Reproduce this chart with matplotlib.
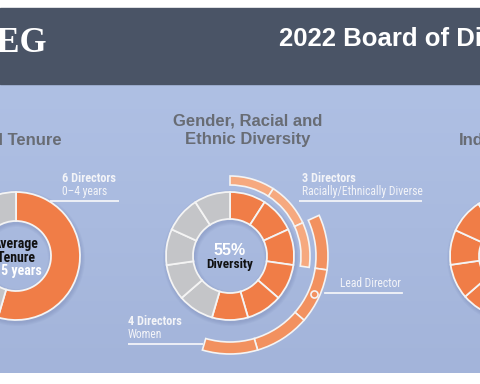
import numpy as np
import matplotlib.pyplot as plt
from matplotlib.patches import Rectangle

# --- data ---
tenure_labels = ['0-4 years', '5-9 years', '10+ years']
tenure_counts = [6, 3, 2]
seats = 11
diverse_seats = [1, 1, 1, 1, 1, 1, 0, 0, 0, 0, 0]
racial_seats = [1, 1, 1, 0, 0, 0, 0, 0, 0, 0, 0]
women_seats = [0, 0, 1, 1, 1, 1, 0, 0, 0, 0, 0]
lead_director_seat = 3
independent_seats = [1, 1, 1, 1, 1, 1, 1, 1, 1, 1, 0]

W, H = 480, 384
ORANGE = '#f07d47'
ORANGE_MID = '#f2915f'
ORANGE_LIGHT = '#f6a97f'
GRAY = '#c4c5c8'
BG_TOP = '#afc0e4'
BG_BOT = '#a3b4da'
HEADER = '#4a5466'
TITLE_GRAY = '#686c74'
WHITE = '#f3f4f8'
NARROW = ['Roboto Condensed', 'DejaVu Sans']
SANS = ['Liberation Sans', 'DejaVu Sans']

fig = plt.figure(figsize=(4.8, 3.84), dpi=100)
ax = fig.add_axes([0, 0, 1, 1])

# background
grad = np.linspace(0, 1, 200)[:, None]
c1 = np.array([int(BG_TOP[i:i + 2], 16) for i in (1, 3, 5)]) / 255
c2 = np.array([int(BG_BOT[i:i + 2], 16) for i in (1, 3, 5)]) / 255
img = c1[None, None, :] * (1 - grad[:, :, None]) + c2[None, None, :] * grad[:, :, None]
ax.imshow(img, extent=(0, W, 11, 300), aspect='auto', zorder=0)
ax.add_patch(Rectangle((0, 300), W, 76, color=HEADER, zorder=1))


def shadow(cx, cy, r, width):
    for k in (1, 2, 3, 4):
        w, _ = ax.pie([1], colors=['#2c3a6e'], radius=r + k, center=(cx + 1, cy - 2),
                      frame=True, wedgeprops=dict(width=width + 2 * k, linewidth=0, alpha=0.035))
        w[0].set_zorder(2)


def ring(cx, cy, r, width, values, colors, hide=(), lw=1.3):
    wedges, _ = ax.pie(values, colors=colors, radius=r, center=(cx, cy),
                       startangle=90, counterclock=False, frame=True,
                       wedgeprops=dict(width=width, edgecolor='#f4f4f4', linewidth=lw))
    for i, w in enumerate(wedges):
        w.set_zorder(3)
        if i in hide:
            w.set_visible(False)
    return wedges


# Tenure donut
shadow(16, 128, 64, 29)
ring(16, 128, 64, 29, tenure_counts, [ORANGE, GRAY, GRAY])

# Diversity donut
shadow(230, 128, 64, 27)
ring(230, 128, 64, 27, [1] * seats, [ORANGE if d else GRAY for d in diverse_seats])
ring(230, 128, 80, 9, [1] * seats, [ORANGE_LIGHT] * seats,
     hide=[i for i, v in enumerate(racial_seats) if not v], lw=1.2)
ring(230, 128, 98, 12, [1] * seats, [ORANGE_MID] * seats,
     hide=[i for i, v in enumerate(women_seats) if not v], lw=1.2)
theta = np.deg2rad((lead_director_seat + 0.5) * 360 / seats)
ax.scatter([230 + 92 * np.sin(theta)], [128 + 92 * np.cos(theta)], s=26,
           facecolor=ORANGE_MID, edgecolor='#f4f4f4', linewidth=1.2, zorder=5)

# Independence donut
shadow(512, 128, 62, 29)
ring(512, 128, 62, 29, [1] * seats, [ORANGE if d else GRAY for d in independent_seats])

# header texts
ax.text(47, 340, 'SEG', color='white', fontsize=25, fontweight='bold',
        family=['Liberation Serif', 'DejaVu Serif'], ha='right', va='center', zorder=4)
ax.text(279, 338, '2022 Board of Directors', color='white', fontsize=18.5,
        fontweight='bold', family=SANS, ha='left', va='baseline', zorder=4)

# section titles
ax.text(62, 239, 'Board Tenure', color=TITLE_GRAY, fontsize=12, fontweight='bold',
        family=SANS, ha='right', va='baseline', zorder=4)
ax.text(248, 259, 'Gender, Racial and', color=TITLE_GRAY, fontsize=12, fontweight='bold',
        family=SANS, ha='center', va='baseline', zorder=4)
ax.text(248, 240, 'Ethnic Diversity', color=TITLE_GRAY, fontsize=12, fontweight='bold',
        family=SANS, ha='center', va='baseline', zorder=4)
ax.text(459, 239, 'Independence', color=TITLE_GRAY, fontsize=12, fontweight='bold',
        family=SANS, ha='left', va='baseline', zorder=4)

# callouts
callouts = [
    (62, 202, '6 Directors', '0\u20134 years', (50, 119), 183),
    (302, 202, '3 Directors', 'Racially/Ethnically Diverse', (299, 422), 183),
    (128, 59, '4 Directors', 'Women', (128, 203), 40),
]
for x, yb, top, bottom, (x0, x1), ly in callouts:
    ax.text(x, yb, top, color=WHITE, fontsize=8.8, fontweight='bold', family=NARROW,
            ha='left', va='baseline', zorder=4)
    ax.text(x, yb - 13, bottom, color=WHITE, fontsize=8.4, family=NARROW,
            ha='left', va='baseline', zorder=4)
    ax.plot([x0, x1], [ly, ly], color=WHITE, lw=1.3, zorder=2, solid_capstyle='butt')
ax.text(340, 97, 'Lead Director', color=WHITE, fontsize=8.4, family=NARROW,
        ha='left', va='baseline', zorder=4)
ax.plot([325, 402], [91, 91], color=WHITE, lw=1.3, zorder=2)

# center labels
ax.text(16, 136, 'Average', color='#111111', fontsize=10, fontweight='bold',
        family=NARROW, ha='center', va='baseline', zorder=4)
ax.text(16, 122, 'Tenure', color='#111111', fontsize=10, fontweight='bold',
        family=NARROW, ha='center', va='baseline', zorder=4)
ax.text(16, 109, '6.5 years', color='white', fontsize=10, fontweight='bold',
        family=NARROW, ha='center', va='baseline', zorder=4)
ax.text(230, 129, '55%', color='white', fontsize=11.5, fontweight='bold',
        family=SANS, ha='center', va='baseline', zorder=4)
ax.text(230, 116, 'Diversity', color='#111111', fontsize=9.5, fontweight='bold',
        family=NARROW, ha='center', va='baseline', zorder=4)

ax.set_xlim(0, W)
ax.set_ylim(0, H)
ax.set_aspect('auto')
ax.axis('off')
fig.savefig('out.png', dpi=100, facecolor='white')
